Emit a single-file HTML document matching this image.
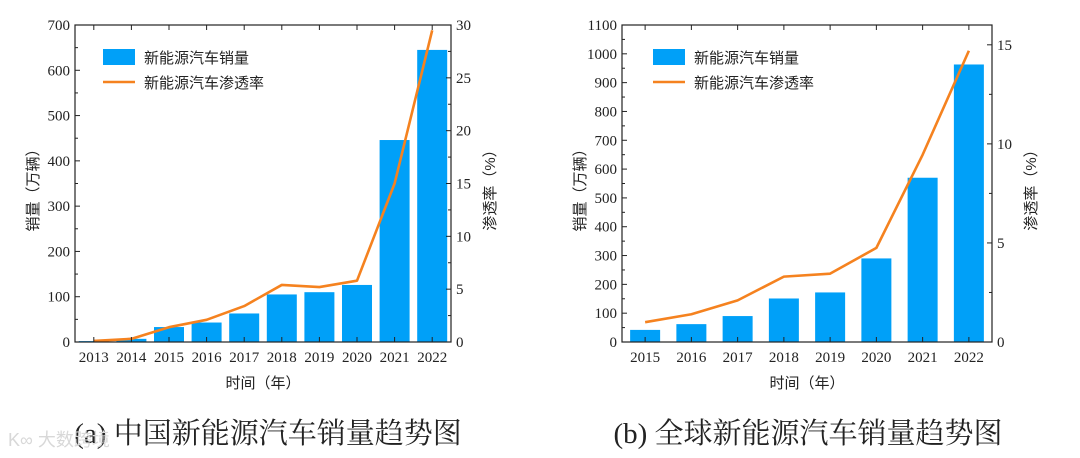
<!DOCTYPE html>
<html><head><meta charset="utf-8"><style>
html,body{margin:0;padding:0;background:#fff;}
svg{display:block;}
text{font-family:"Liberation Serif","Noto Serif CJK SC",serif;fill:#222;}
.cjk{font-family:"Liberation Sans","Noto Sans CJK SC",sans-serif;}
.cap{font-family:"Liberation Serif","Noto Serif CJK SC",serif;}
</style></head><body>
<svg id="svg" width="1080" height="458" viewBox="0 0 1080 458" xmlns="http://www.w3.org/2000/svg">
<text x="268" y="443" font-size="29" text-anchor="middle" class="cap">(a) 中国新能源汽车销量趋势图</text>
<text x="808" y="443" font-size="29" text-anchor="middle" class="cap">(b) 全球新能源汽车销量趋势图</text>
<text x="8" y="446" font-size="18" style="fill:#d8d8d8" class="cjk">K∞ 大数跨境</text>
</svg>
<script>
const chinaYears = ['2013','2014','2015','2016','2017','2018','2019','2020','2021','2022'];
const chinaSales = [2, 7, 33, 43, 63, 105, 110, 126, 446, 645];
const chinaRate = [0.1, 0.3, 1.4, 2.1, 3.4, 5.4, 5.2, 5.8, 15.0, 29.5];
const chinaLeftTicks = [0,100,200,300,400,500,600,700];
const chinaRightTicks = [0,5,10,15,20,25,30];
const globalYears = ['2015','2016','2017','2018','2019','2020','2021','2022'];
const globalSales = [42, 62, 90, 151, 172, 290, 570, 963];
const globalRate = [1.0, 1.4, 2.1, 3.3, 3.45, 4.75, 9.45, 14.7];
const globalLeftTicks = [0,100,200,300,400,500,600,700,800,900,1000,1100];
const globalRightTicks = [0,5,10,15];

const NS='http://www.w3.org/2000/svg';
const svg=document.getElementById('svg');
function mk(tag,attrs,parent){const e=document.createElementNS(NS,tag);for(const k in attrs)e.setAttribute(k,attrs[k]);(parent||svg).appendChild(e);return e;}

function chart(id,x0,x1,y0,y1,cats,sales,rate,lt,lmax,lminor,rt,rmax,rminor){
  const g=mk('g',{});
  
  
  const n=cats.length,bw=(x1-x0)/n;
  const xs=i=>x0+bw*(i+0.5);
  const yl=v=>y1-(v/lmax)*(y1-y0);
  const yr=v=>y1-(v/rmax)*(y1-y0);
  sales.forEach((v,i)=>{
    const r=mk('rect',{x:xs(i)-15,y:yl(v),width:30,height:y1-yl(v),fill:'#00a0f8'},g);
    
    
  });
  const pts=rate.map((v,i)=>xs(i)+','+yr(v)).join(' ');
  const pl=mk('polyline',{points:pts,fill:'none',stroke:'#f5821f','stroke-width':2.6,'stroke-linejoin':'round'},g);
  
  
  const fr=mk('rect',{x:x0,y:y0,width:x1-x0,height:y1-y0,fill:'none',stroke:'#222','stroke-width':1.2},g);
  
  
  for(let v=0;v<=lmax+1e-9;v+=lminor){
    const major=lt.includes(Math.round(v));
    mk('line',{x1:x0,x2:x0+(major?5:3),y1:yl(v),y2:yl(v),stroke:'#222','stroke-width':1},g);
  }
  lt.forEach(v=>{
    const t=mk('text',{x:x0-5,y:yl(v)+5,'font-size':15,'text-anchor':'end'},g);
    t.textContent=v;
    
    
  });
  for(let v=0;v<=rmax+1e-9;v+=rminor){
    const major=rt.includes(Math.round(v*100)/100);
    mk('line',{x1:x1,x2:x1-(major?5:3),y1:yr(v),y2:yr(v),stroke:'#222','stroke-width':1},g);
  }
  rt.forEach(v=>{
    const t=mk('text',{x:x1+5,y:yr(v)+5,'font-size':15},g);
    t.textContent=v;
    
    
  });
  cats.forEach((c,i)=>{
    mk('line',{x1:xs(i),x2:xs(i),y1:y1,y2:y1-5,stroke:'#222'},g);
    mk('line',{x1:xs(i),x2:xs(i),y1:y0,y2:y0+5,stroke:'#222'},g);
    const t=mk('text',{x:xs(i),y:y1+20,'font-size':15,'text-anchor':'middle'},g);
    t.textContent=c;
    
    
  });
  const xt=mk('text',{x:(x0+x1)/2,y:y1+46,'font-size':15,'text-anchor':'middle',class:'cjk'},g);
  xt.textContent='时间（年）';
  
  
  const ly=mk('text',{x:0,y:0,'font-size':15,'text-anchor':'middle',class:'cjk',transform:'translate('+(x0-37)+','+((y0+y1)/2+3)+') rotate(-90)'},g);
  ly.textContent='销量（万辆）';
  
  
  const ry=mk('text',{x:0,y:0,'font-size':15,'text-anchor':'middle',class:'cjk',transform:'translate('+(x1+44)+','+((y0+y1)/2+3)+') rotate(-90)'},g);
  ry.textContent='渗透率（%）';
  
  
  const lx=x0+28+(id==='global'?3:0);
  const lr=mk('rect',{x:lx,y:49,width:32,height:16,fill:'#00a0f8'},g);
  
  
  const l1=mk('text',{x:lx+41,y:63,'font-size':15,class:'cjk'},g);
  l1.textContent='新能源汽车销量';
  
  
  mk('line',{x1:lx,x2:lx+32,y1:82,y2:82,stroke:'#f5821f','stroke-width':2.6},g);
  const l2=mk('text',{x:lx+41,y:88,'font-size':15,class:'cjk'},g);
  l2.textContent='新能源汽车渗透率';
  
  
}
chart('china',75,451,25,342,chinaYears,chinaSales,chinaRate,chinaLeftTicks,700,50,chinaRightTicks,30,2.5);
chart('global',622,992,25,342,globalYears,globalSales,globalRate,globalLeftTicks,1100,50,globalRightTicks,16,2.5);
</script>
</body></html>
